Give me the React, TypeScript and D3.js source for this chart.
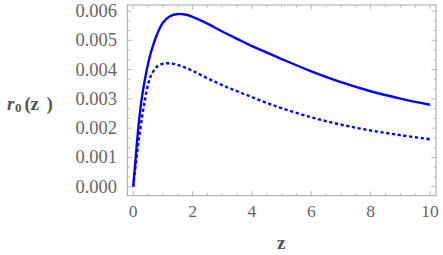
import React from "react";
import * as d3 from "d3";

// z grid, solid and dotted curve values
const zs = [0, 0.1, 0.2, 0.3, 0.4, 0.5, 0.6, 0.8, 1.0, 1.25, 1.5, 1.75, 2, 2.5, 3, 3.5, 4, 4.5, 5, 6, 7, 8, 9, 10];
const solid = [
  0, 0.0012, 0.0023, 0.0031, 0.0037, 0.0042, 0.0046, 0.0052, 0.0056, 0.00583, 0.0059, 0.00588,
  0.0058, 0.00557, 0.0053, 0.00505, 0.0048, 0.00458, 0.00436, 0.00394, 0.00357, 0.00326, 0.00301, 0.0028,
];
const dotted = [
  0, 0.0009, 0.0017, 0.0024, 0.003, 0.0035, 0.0038, 0.0041, 0.0042, 0.00421, 0.00416, 0.00407,
  0.00396, 0.0037, 0.00347, 0.00326, 0.00306, 0.00286, 0.00268, 0.00237, 0.00212, 0.00192, 0.00176, 0.00162,
];
const xTicks = [0, 2, 4, 6, 8, 10];
const yTicks = [0, 0.001, 0.002, 0.003, 0.004, 0.005, 0.006];

const W = 443;
const H = 255;
const left = 127.3, right = 436, top = 5, bottom = 195.7;
const frameColor = "#a6a6a6";
const labelColor = "#666";
const serif = "Liberation Serif, Times New Roman, DejaVu Serif, serif";

export default function App() {
  let x = d3.scaleLinear().domain([-0.2, 10.2]).range([left, right]);
  let y = d3.scaleLinear().domain([-0.000307, 0.006205]).range([bottom, top]);

  let line = d3
    .line<number>()
    .x((d, i) => x(zs[i]))
    .y((d) => y(d))
    .curve(d3.curveCatmullRom.alpha(0.5));

  let xMinor = d3.range(0, 10.01, 0.5);
  let yMinor = d3.range(0, 0.00621, 0.001 / 3);

  function isMajorX(v) {
    return Math.abs(v / 2 - Math.round(v / 2)) < 1e-6;
  }
  function isMajorY(v) {
    return Math.abs(v / 0.001 - Math.round(v / 0.001)) < 1e-6;
  }

  return (
    <svg width={W} height={H} style={{ position: "absolute", left: 0, top: 0, background: "white" }}>
      <defs>
        <clipPath id="plot">
          <rect x={left} y={top} width={right - left} height={bottom - top} />
        </clipPath>
      </defs>
      <g clipPath="url(#plot)">
        <path d={line(solid)} fill="none" stroke="#0000ff" strokeWidth={2.4} />
        <path d={line(dotted)} fill="none" stroke="#0000ff" strokeWidth={2.4} strokeDasharray="3.2,2.6" />
      </g>
      <rect x={left} y={top} width={right - left} height={bottom - top} fill="none" stroke={frameColor} strokeWidth={1} />
      {xMinor.map((v) => {
        let len = isMajorX(v) ? 4.5 : 2.5;
        return (
          <g key={"xt" + v} stroke={frameColor} strokeWidth={0.8}>
            <line x1={x(v)} x2={x(v)} y1={bottom} y2={bottom - len} />
            <line x1={x(v)} x2={x(v)} y1={top} y2={top + len} />
          </g>
        );
      })}
      {yMinor.map((v) => {
        let len = isMajorY(v) ? 4.5 : 2.5;
        return (
          <g key={"yt" + v} stroke={frameColor} strokeWidth={0.8}>
            <line x1={left} x2={left + len} y1={y(v)} y2={y(v)} />
            <line x1={right} x2={right - len} y1={y(v)} y2={y(v)} />
          </g>
        );
      })}
      <g style={{ fontFamily: serif }}>
        {xTicks.map((v) => (
          <text key={"xl" + v} x={x(v)} y={217} textAnchor="middle" fontSize={17.5} fill={labelColor}>
            {v}
          </text>
        ))}
        {yTicks.map((v) => (
          <text key={"yl" + v} x={117} y={y(v) + 6} textAnchor="end" fontSize={18.5} fill={labelColor}>
            {v.toFixed(3)}
          </text>
        ))}
        <g fontWeight="bold" fill="#555" fontSize={19}>
          <text x={7} y={109.5} fontStyle="italic">r</text>
          <text x={15} y={111.5} fontSize={13}>0</text>
          <text x={24.5} y={109.5}>(</text>
          <text x={30.5} y={109.5}>z</text>
          <text x={46.5} y={109.5}>)</text>
          <text x={281.3} y={248.5} textAnchor="middle">z</text>
        </g>
      </g>
    </svg>
  );
}
